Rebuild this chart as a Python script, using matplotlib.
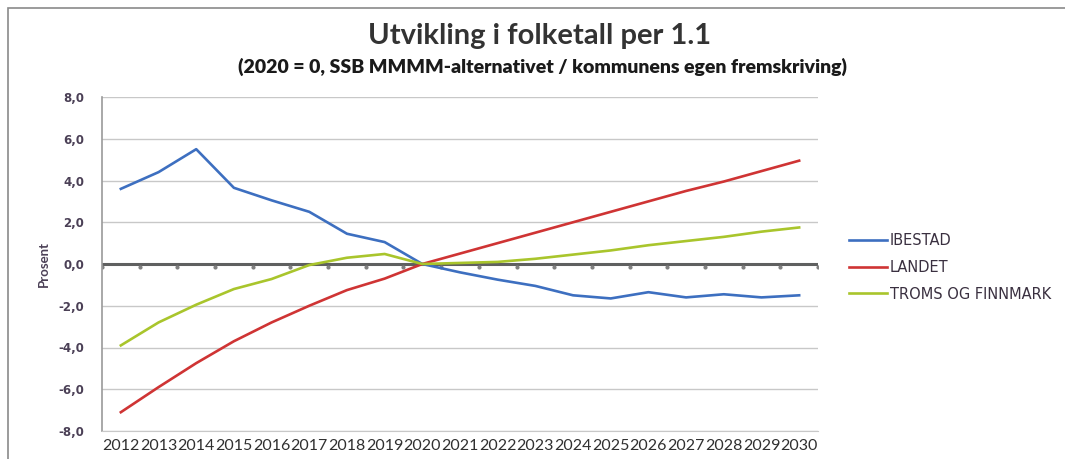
#!/usr/bin/env python3
# Utvikling i folketall per 1.1 - line chart, 2020 = 0
import numpy as np
import matplotlib
matplotlib.use("Agg")
from matplotlib import pyplot as plt
from matplotlib.patches import Rectangle

##################---------Data---------#############################
years = [str(y) for y in range(2012, 2031)]
ibestad = [3.6, 4.4, 5.5, 3.65, 3.05, 2.5, 1.45, 1.05, 0.0,
           -0.4, -0.75, -1.05, -1.5, -1.65, -1.35, -1.6, -1.45, -1.6, -1.5]
landet = [-7.1, -5.9, -4.75, -3.7, -2.8, -2.0, -1.25, -0.7, 0.0,
          0.5, 1.0, 1.5, 2.0, 2.5, 3.0, 3.5, 3.95, 4.45, 4.95]
troms_finnmark = [-3.9, -2.8, -1.95, -1.2, -0.72, -0.05, 0.3, 0.48, 0.0,
                  0.05, 0.1, 0.25, 0.45, 0.65, 0.9, 1.1, 1.3, 1.55, 1.75]
series_names = ["IBESTAD", "LANDET", "TROMS OG FINNMARK"]
series_colors = ["#3d6fc0", "#cf3434", "#a9c52c"]
y_ticks = [-8, -6, -4, -2, 0, 2, 4, 6, 8]

title = "Utvikling i folketall per 1.1"
subtitle = "(2020 = 0, SSB MMMM-alternativet / kommunens egen fremskriving)"

##################---------Plot---------#############################
plt.rcParams['font.family'] = ['Lato', 'DejaVu Sans']

fig = plt.figure(figsize=(10.65, 4.59), dpi=100)
ax = fig.add_axes([102 / 1065, 1 - 431 / 459, 716 / 1065, 334 / 459])

x = np.arange(len(years))
for vals, name, col in zip([ibestad, landet, troms_finnmark], series_names, series_colors):
    ax.plot(x, vals, color=col, lw=1.9, label=name, solid_joinstyle='round')

# gridlines and the zero line with little ticks
for t in y_ticks:
    if t != 0:
        ax.axhline(t, color="#c8c8c8", lw=1.0, zorder=0)
ax.axhline(0, color="#5f6060", lw=2.2, zorder=1)
bounds = np.arange(len(years) + 1) - 0.5
ax.plot(bounds, np.zeros_like(bounds) - 0.12, ls='none', marker='o', ms=2,
        color="#808080", zorder=1)

ax.set_xlim(-0.5, len(years) - 0.5)
ax.set_ylim(-8, 8)
ax.set_yticks(y_ticks)
ax.set_yticklabels([("%.1f" % t).replace(".", ",") for t in y_ticks],
                   fontsize=8.5, fontweight='bold', color="#4b4056",
                   family=['DejaVu Sans'])
ax.set_xticks(x)
ax.set_xticklabels(years, fontsize=11.5, color="#303030")
ax.tick_params(axis='both', length=0)
ax.tick_params(axis='y', pad=13)
ax.tick_params(axis='x', pad=6)

for s in ['top', 'right']:
    ax.spines[s].set_visible(False)
ax.spines['left'].set_color("#9a9a9a")
ax.spines['bottom'].set_color("#c8c8c8")
ax.spines['left'].set_linewidth(1.2)

ax.set_ylabel("Prosent", fontsize=9.5, fontweight='bold', color="#4b4056",
              fontstretch='condensed', labelpad=6)

fig.text(540 / 1065, 1 - 36 / 459, title, ha='center', va='center',
         fontsize=21, fontweight='bold', color="#333333")
fig.text(542 / 1065, 1 - 67 / 459, subtitle, ha='center', va='center',
         fontsize=14, fontweight='heavy', color="#1a1a1a")

leg = ax.legend(loc='center left', bbox_to_anchor=(1.025, 0.49), frameon=False,
                handlelength=2.6, handletextpad=0.2, labelspacing=0.8,
                prop={'family': 'DejaVu Sans', 'size': 10.5})
for txt in leg.get_texts():
    txt.set_color("#3a3040")

# chart frame (scanned excel border)
fig.patches.append(Rectangle((8 / 1065, -0.02), 1.05, 1 - 8 / 459 + 0.02,
                             transform=fig.transFigure, fill=False,
                             edgecolor="#8a8a8a", lw=1.2))

fig.savefig("out.png", dpi=100)
